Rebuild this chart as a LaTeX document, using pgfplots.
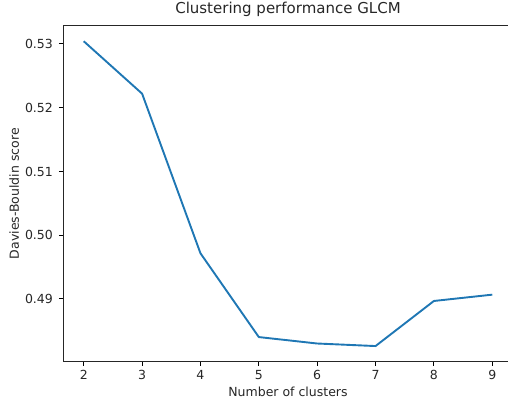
\documentclass[border=0pt]{standalone}
\usepackage{fontspec}
\setmainfont{DejaVu Sans}
\usepackage{pgfplots}
\pgfplotsset{compat=1.18}
\definecolor{c0}{HTML}{1F77B4}
\begin{document}
\begin{tikzpicture}
\useasboundingbox (0,0) rectangle (508bp,403bp);
\begin{axis}[
 at={(63.3bp,41.7bp)}, anchor=south west,
 scale only axis, width=449.4bp, height=335.3bp,
 xmin=1.65, xmax=9.35, ymin=0.48023, ymax=0.53281,
 xtick={2,3,4,5,6,7,8,9}, ytick={0.49,0.50,0.51,0.52,0.53},
 scaled y ticks=false,
 yticklabel style={/pgf/number format/fixed, /pgf/number format/precision=2, /pgf/number format/fixed zerofill, xshift=-2.5bp},
 /pgf/number format/assume math mode=true,
 tick align=outside, xtick pos=bottom, ytick pos=left,
 major tick length=4.4bp,
 every tick/.style={black, line width=1.0bp},
 axis line style={line width=1.0bp, black!85},
 tick label style={font=\fontsize{12.5bp}{15bp}\selectfont, black!85},
 xticklabel style={yshift=-1.5bp},
 title={Clustering performance GLCM},
 title style={at={(axis description cs:0.5,1.0194)}, anchor=base, font=\fontsize{15bp}{18bp}\selectfont, black!85},
 xlabel={Number of clusters},
 xlabel style={at={(axis description cs:0.5,-0.1056)}, anchor=base, font=\fontsize{12.5bp}{15bp}\selectfont, black!85},
 ylabel={Davies-Bouldin score},
 ylabel style={at={(axis description cs:-0.0986,0.5)}, anchor=base, font=\fontsize{12.5bp}{15bp}\selectfont, black!85},
]
\addplot[c0, line width=1.9bp, line join=round] coordinates {
(2,0.53042) (3,0.52220) (4,0.49717) (5,0.48403) (6,0.48302) (7,0.48262) (8,0.48969) (9,0.49068)
};
\end{axis}
\end{tikzpicture}
\end{document}
